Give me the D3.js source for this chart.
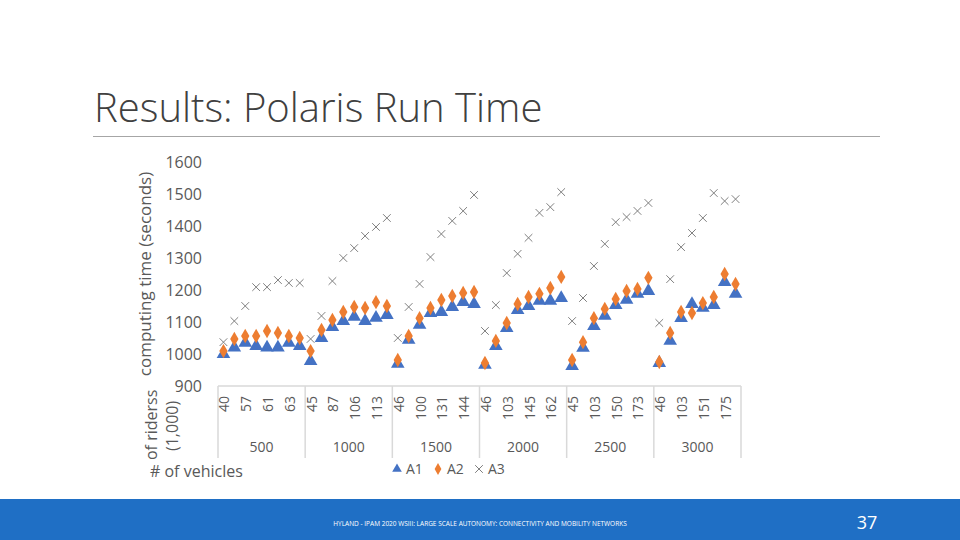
<!DOCTYPE html>
<html><head><meta charset="utf-8">
<script src="https://cdn.jsdelivr.net/npm/d3@7"></script>
<style>body{margin:0;background:#fff}svg{display:block}</style>
</head><body>
<svg id="chart" width="960" height="540"></svg>
<script>
// vehicle groups and rider counts (1,000) per point; Excel shows every other label
var vehicles = ["500", "1000", "1500", "2000", "2500", "3000"];
var riders = [
  ["40","51","57","59","61","62","63","64"],
  ["45","70","87","98","106","110","113","116"],
  ["46","80","100","120","131","140","144","148"],
  ["46","85","103","130","145","155","162","168"],
  ["45","85","103","130","150","165","173","180"],
  ["46","85","103","135","151","165","175","180"]
];
var a1 = [1000,1020,1035,1025,1020,1020,1035,1025, 978,1050,1084,1103,1116,1103,1113,1122,
  969,1044,1091,1128,1131,1147,1162,1156, 966,1025,1081,1137,1150,1166,1166,1175,
  962,1019,1087,1119,1153,1169,1188,1197, 972,1041,1112,1156,1144,1153,1225,1188];
var a2 = [1009,1047,1056,1056,1072,1066,1056,1050, 1009,1075,1106,1131,1147,1144,1162,1150,
  981,1056,1112,1144,1169,1181,1191,1194, 972,1041,1097,1156,1178,1188,1206,1241,
  981,1037,1112,1141,1172,1197,1203,1238, 975,1066,1131,1128,1159,1178,1250,1219];
var a3 = [1037,1103,1150,1209,1209,1231,1222,1222, 1047,1119,1228,1300,1331,1369,1397,1425,
  1050,1147,1219,1303,1375,1416,1447,1497, 1072,1153,1253,1313,1363,1441,1459,1506,
  1103,1175,1275,1344,1412,1428,1447,1472, 1097,1234,1334,1378,1425,1503,1478,1484];
var yTicks = [900,1000,1100,1200,1300,1400,1500,1600];

var svg = d3.select("#chart");
var font = "'Open Sans', sans-serif";
var gray = "#595959";

// title
svg.append("text").attr("x", 94).attr("y", 122)
  .attr("font-family", font).attr("font-weight", 300).attr("font-size", 40)
  .attr("fill", "#404040").text("Results: Polaris Run Time");
svg.append("line").attr("x1", 93).attr("x2", 880).attr("y1", 136.5).attr("y2", 136.5)
  .attr("stroke", "#a6a6a6").attr("stroke-width", 1);

// footer
svg.append("rect").attr("x", 0).attr("y", 499).attr("width", 960).attr("height", 41).attr("fill", "#1f6fc5");
svg.append("text").attr("x", 480).attr("y", 526).attr("text-anchor", "middle")
  .attr("font-family", font).attr("font-size", 6.5).attr("fill", "#fff")
  .text("HYLAND - IPAM 2020 WSIII: LARGE SCALE AUTONOMY: CONNECTIVITY AND MOBILITY NETWORKS");
svg.append("text").attr("x", 867).attr("y", 529).attr("text-anchor", "middle")
  .attr("font-family", font).attr("font-size", 18).attr("fill", "#fff").text("37");

// scales
var cats = [];
riders.forEach(function (g, i) { g.forEach(function (r, j) { cats.push(i + "-" + j); }); });
var x = d3.scaleBand().domain(cats).range([218, 741]);
var y = d3.scaleLinear().domain([900, 1600]).range([386, 162]);
var cx = function (d, i) { return x(cats[i]) + x.bandwidth() / 2; };

// y labels
svg.append("g").selectAll("text").data(yTicks).join("text")
  .attr("x", 202).attr("y", function (d) { return y(d) + 6; }).attr("text-anchor", "end")
  .attr("font-family", font).attr("font-size", 16).attr("fill", gray).text(function (d) { return d; });
svg.append("text").attr("transform", "translate(151,274) rotate(-90)").attr("text-anchor", "middle")
  .attr("font-family", font).attr("font-size", 17).attr("fill", gray).text("computing time (seconds)");

// category table
var tbl = svg.append("g").attr("stroke", "#d9d9d9").attr("stroke-width", 1.5);
tbl.append("line").attr("x1", 218).attr("x2", 741).attr("y1", 386).attr("y2", 386);
d3.range(vehicles.length + 1).forEach(function (i) {
  var xv = i < vehicles.length ? x(i + "-0") : 741;
  tbl.append("line").attr("x1", xv).attr("x2", xv).attr("y1", 386).attr("y2", 458);
});
svg.append("g").selectAll("text").data(cats.filter(function (c, i) { return i % 2 === 0; })).join("text")
  .attr("transform", function (c) { return "translate(" + (x(c) + x.bandwidth() / 2 + 6) + ",396) rotate(-90)"; })
  .attr("text-anchor", "end").attr("font-family", font).attr("font-size", 14).attr("fill", gray)
  .text(function (c) { var p = c.split("-"); return riders[+p[0]][+p[1]]; });
svg.append("g").selectAll("text").data(vehicles).join("text")
  .attr("x", function (v, i) { return x(i + "-4"); }).attr("y", 452).attr("text-anchor", "middle")
  .attr("font-family", font).attr("font-size", 14).attr("fill", gray).text(function (v) { return v; });
svg.append("text").attr("transform", "translate(157,460) rotate(-90)")
  .attr("font-family", font).attr("font-size", 16).attr("fill", gray).text("of riderss");
svg.append("text").attr("transform", "translate(178,451) rotate(-90)")
  .attr("font-family", font).attr("font-size", 16).attr("fill", gray).text("(1,000)");
svg.append("text").attr("x", 150).attr("y", 477)
  .attr("font-family", font).attr("font-size", 16).attr("fill", gray).text("# of vehicles");

// markers
var tri = d3.symbol().type(d3.symbolTriangle).size(80);
var dia = d3.symbol().type(d3.symbolDiamond).size(60);
var cross = d3.symbol().type(d3.symbolX).size(40);
svg.append("g").selectAll("path").data(a3).join("path")
  .attr("transform", function (d, i) { return "translate(" + cx(d, i) + "," + y(d) + ")"; })
  .attr("d", cross).attr("fill", "none").attr("stroke", "#7f7f7f").attr("stroke-width", 1);
svg.append("g").selectAll("path").data(a1).join("path")
  .attr("transform", function (d, i) { return "translate(" + cx(d, i) + "," + y(d) + ")"; })
  .attr("d", tri).attr("fill", "#4472c4");
svg.append("g").selectAll("path").data(a2).join("path")
  .attr("transform", function (d, i) { return "translate(" + cx(d, i) + "," + y(d) + ")"; })
  .attr("d", dia).attr("fill", "#ed7d31");

// legend
var leg = [["A1", tri, "#4472c4", null], ["A2", dia, "#ed7d31", null], ["A3", cross, "none", "#7f7f7f"]];
var lg = svg.append("g").selectAll("g").data(leg).join("g")
  .attr("transform", function (d, i) { return "translate(" + (397 + i * 41) + ",469)"; });
lg.append("path").attr("d", function (d) { return d[1].size(40)(); })
  .attr("fill", function (d) { return d[2]; }).attr("stroke", function (d) { return d[3]; });
lg.append("text").attr("x", 9).attr("y", 5).attr("font-family", font).attr("font-size", 14)
  .attr("fill", gray).text(function (d) { return d[0]; });
</script>
</body></html>
